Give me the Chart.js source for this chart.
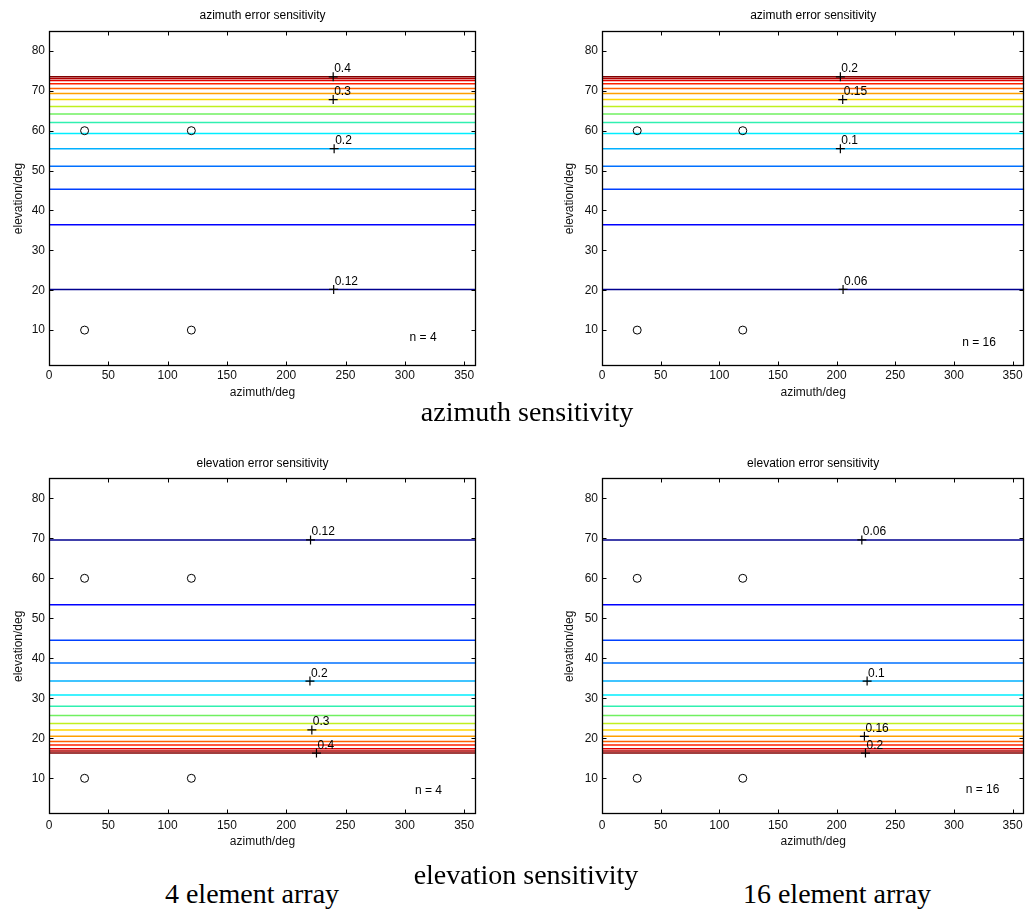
<!DOCTYPE html>
<html>
<head>
<meta charset="utf-8">
<script src="https://cdn.jsdelivr.net/npm/chart.js@4.4.1/dist/chart.umd.min.js"></script>
<style>
  body { margin: 0; background: #fff; width: 1030px; height: 911px; position: relative; overflow: hidden; }
  canvas { position: absolute; }
  .cap { position: absolute; font-family: 'Liberation Serif', 'Times New Roman', serif; font-size: 28px;
         line-height: 28px; white-space: nowrap; transform: translateX(-50%); color: #000; }
</style>
</head>
<body>
<canvas id="azN4" width="490" height="405" style="left:0;top:0"></canvas>
<canvas id="azN16" width="490" height="405" style="left:540px;top:0"></canvas>
<canvas id="elN4" width="490" height="420" style="left:0;top:440px"></canvas>
<canvas id="elN16" width="490" height="420" style="left:540px;top:440px"></canvas>
<div class="cap" style="left:527px;top:398px">azimuth sensitivity</div>
<div class="cap" style="left:526px;top:861px">elevation sensitivity</div>
<div class="cap" style="left:252px;top:880px">4 element array</div>
<div class="cap" style="left:837px;top:880px">16 element array</div>
<script>
// Axis ticks
const azimuthTicks = [0, 50, 100, 150, 200, 250, 300, 350];
const elevationTicks = [10, 20, 30, 40, 50, 60, 70, 80];

// Contour line elevations (lowest level first)
const azContourElev = [20.2, 36.4, 45.3, 51.1, 55.5, 59.3, 62.05, 64.2, 66.1, 67.8, 69.3, 70.6, 71.8, 72.6, 73.1, 73.5];
const elContourElev = [69.6, 53.4, 44.5, 38.8, 34.3, 30.8, 28.0, 25.7, 23.7, 22.1, 20.5, 19.2, 18.3, 17.4, 16.8, 16.3];

// Source directions (circles)
const sourceAz = [30, 120, 30, 120];
const sourceEl = [60, 60, 10, 10];

// Contour labels
const azN4Labels = ['0.12', '0.2', '0.3', '0.4'];
const azN4LabelAz = [240, 240.4, 239.6, 239.6];
const azN4LabelEl = [20.2, 55.5, 67.8, 73.5];

const azN16Labels = ['0.06', '0.1', '0.15', '0.2'];
const azN16LabelAz = [205.5, 203.2, 205.2, 203.2];
const azN16LabelEl = [20.2, 55.5, 67.8, 73.5];

const elN4Labels = ['0.12', '0.2', '0.3', '0.4'];
const elN4LabelAz = [220.5, 220, 221.6, 225.5];
const elN4LabelEl = [69.6, 34.3, 22.1, 16.3];

const elN16Labels = ['0.06', '0.1', '0.16', '0.2'];
const elN16LabelAz = [221.5, 226, 223.7, 224.6];
const elN16LabelEl = [69.6, 34.3, 20.5, 16.3];

// jet(16) colours, low to high
const jetColors = [
  '#00008f', '#0000ff', '#0040ff', '#0070ff', '#00b0ff', '#00eeff', '#30f0b0', '#70f060',
  '#c0f020', '#ffd800', '#ffa000', '#ff6000', '#ff2000', '#e00000', '#b00000', '#800000'
];

const FONT = { family: "'Liberation Sans', Arial, sans-serif", size: 12 };
const INK = '#111';

// MATLAB-style box, inner ticks, title, contour labels and n = text
const matlabBox = {
  id: 'matlabBox',
  afterDatasetsDraw(chart, args, opts) {
    const { ctx, chartArea: a, scales: { x, y } } = chart;
    ctx.save();
    ctx.font = `${FONT.size}px ${FONT.family}`;
    ctx.fillStyle = '#000';
    ctx.textAlign = 'left';
    ctx.textBaseline = 'alphabetic';
    chart.data.datasets.forEach((ds, di) => {
      if (!ds.labels) return;
      chart.getDatasetMeta(di).data.forEach((p, i) => ctx.fillText(ds.labels[i], p.x + 1, p.y - 4.5));
    });

    ctx.textBaseline = 'middle';
    ctx.fillText(opts.note, x.getPixelForValue(opts.noteAt[0]), y.getPixelForValue(opts.noteAt[1]));

    ctx.textAlign = 'center';
    ctx.fillText(opts.title, (a.left + a.right) / 2, a.top - 15);

    // frame
    const l = Math.round(a.left) + 0.5, r = Math.round(a.right) - 0.5;
    const t = Math.round(a.top) + 0.5, b = Math.round(a.bottom) - 0.5;
    ctx.strokeStyle = '#000';
    ctx.lineWidth = 1.3;
    ctx.strokeRect(l, t, r - l, b - t);

    // ticks inside, on all four sides
    ctx.lineWidth = 1;
    ctx.beginPath();
    x.ticks.forEach(tk => {
      const px = Math.round(x.getPixelForValue(tk.value)) + 0.5;
      ctx.moveTo(px, b); ctx.lineTo(px, b - 4);
      ctx.moveTo(px, t); ctx.lineTo(px, t + 4);
    });
    y.ticks.forEach(tk => {
      const py = Math.round(y.getPixelForValue(tk.value)) + 0.5;
      ctx.moveTo(l, py); ctx.lineTo(l + 4, py);
      ctx.moveTo(r, py); ctx.lineTo(r - 4, py);
    });
    ctx.stroke();
    ctx.restore();
  }
};

function makePanel(id, g, contours, labels, labelAz, labelEl, title, note, noteAt) {
  const datasets = contours.map((e, i) => ({
    data: [{ x: 0, y: e }, { x: 360, y: e }],
    showLine: true,
    borderColor: jetColors[i],
    borderWidth: 1.5,
    pointRadius: 0,
    order: 1
  }));

  datasets.push({
    data: sourceAz.map((a, i) => ({ x: a, y: sourceEl[i] })),
    pointStyle: 'circle',
    pointRadius: 4,
    borderColor: '#000',
    backgroundColor: 'rgba(0,0,0,0)',
    borderWidth: 1,
    order: 0
  });

  // label markers drawn on top of the contour lines
  datasets.push({
    data: labelAz.map((a, i) => ({ x: a, y: labelEl[i] })),
    labels: labels,
    pointStyle: 'cross',
    pointRadius: 4.5,
    borderColor: '#000',
    borderWidth: 1.2,
    order: -1
  });

  return new Chart(document.getElementById(id), {
    type: 'scatter',
    data: { datasets },
    options: {
      responsive: false,
      animation: false,
      events: [],
      layout: { padding: { top: g.top, right: g.right, left: 0, bottom: 0 } },
      plugins: {
        legend: { display: false },
        tooltip: { enabled: false },
        matlabBox: { title, note, noteAt }
      },
      scales: {
        x: {
          type: 'linear',
          min: 0,
          max: 360,
          afterBuildTicks: s => { s.ticks = azimuthTicks.map(v => ({ value: v })); },
          afterFit: s => { s.height = g.xh; },
          grid: { display: false, drawTicks: false },
          border: { display: false },
          ticks: { color: INK, font: FONT, padding: g.xTickPad, maxRotation: 0, autoSkip: false },
          title: { display: true, text: 'azimuth/deg', color: INK, font: FONT, padding: { top: 0, bottom: g.xTitlePad } }
        },
        y: {
          type: 'linear',
          min: 1,
          max: 85,
          afterBuildTicks: s => { s.ticks = elevationTicks.map(v => ({ value: v })); },
          afterFit: s => { s.width = g.yw; },
          grid: { display: false, drawTicks: false },
          border: { display: false },
          ticks: { color: INK, font: FONT, padding: 4, autoSkip: false },
          title: { display: true, text: 'elevation/deg', color: INK, font: FONT, padding: { top: g.yTitlePad, bottom: 0 } }
        }
      }
    },
    plugins: [matlabBox]
  });
}

const topLeft = { top: 31, right: 14, yw: 49, xh: 39, xTickPad: 2.5, xTitlePad: 4.8, yTitlePad: 11.1 };
const topRight = { top: 31, right: 1, yw: 62, xh: 39, xTickPad: 2.5, xTitlePad: 4.8, yTitlePad: 22.8 };
const botLeft = { top: 38.3, right: 14, yw: 49, xh: 45.7, xTickPad: 4.2, xTitlePad: 10.8, yTitlePad: 11.1 };
const botRight = { top: 38.3, right: 1, yw: 62, xh: 45.7, xTickPad: 4.2, xTitlePad: 10.8, yTitlePad: 22.8 };

makePanel('azN4', topLeft, azContourElev, azN4Labels, azN4LabelAz, azN4LabelEl, 'azimuth error sensitivity', 'n = 4', [304, 8.2]);
makePanel('azN16', topRight, azContourElev, azN16Labels, azN16LabelAz, azN16LabelEl, 'azimuth error sensitivity', 'n = 16', [307, 6.8]);
makePanel('elN4', botLeft, elContourElev, elN4Labels, elN4LabelAz, elN4LabelEl, 'elevation error sensitivity', 'n = 4', [308.5, 6.9]);
makePanel('elN16', botRight, elContourElev, elN16Labels, elN16LabelAz, elN16LabelEl, 'elevation error sensitivity', 'n = 16', [310, 7.2]);
</script>
</body>
</html>
